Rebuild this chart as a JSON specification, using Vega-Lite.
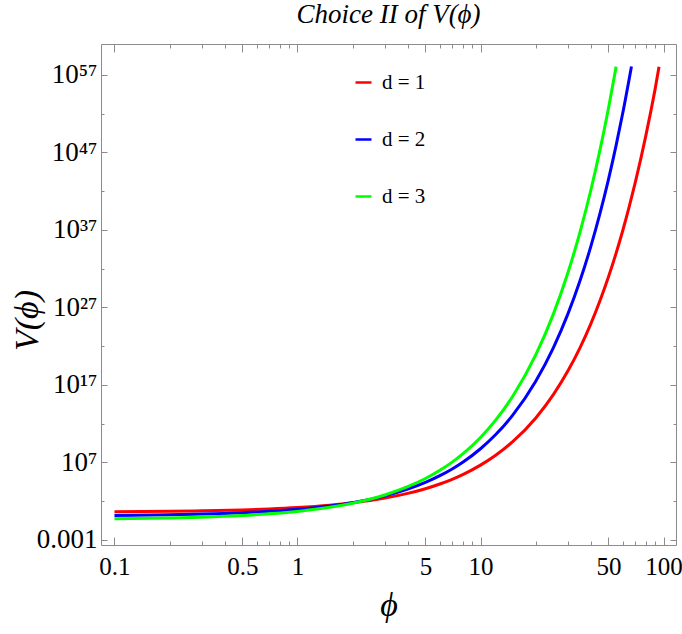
{
  "$schema": "https://vega.github.io/schema/vega-lite/v6.json",
  "autosize": {"type": "none"},
  "padding": {"left": 101, "top": 44, "right": 6, "bottom": 89},
  "width": 575,
  "height": 501,
  "background": "white",
  "title": {"text": "Choice II of V(ϕ)", "font": "Liberation Serif", "fontStyle": "italic", "fontWeight": "normal", "fontSize": 27, "color": "black", "anchor": "middle", "offset": 15},
  "config": {"view": {"stroke": null}, "axis": {"grid": false}},
  "data": {"values": [
    {"d": "d = 1", "phi": 0.1, "V": 4.4},
    {"d": "d = 1", "phi": 0.2, "V": 5.0},
    {"d": "d = 1", "phi": 0.3, "V": 5.8},
    {"d": "d = 1", "phi": 0.5, "V": 7.6},
    {"d": "d = 1", "phi": 0.7, "V": 10.1},
    {"d": "d = 1", "phi": 1, "V": 15.4},
    {"d": "d = 1", "phi": 1.5, "V": 31},
    {"d": "d = 1", "phi": 2, "V": 62},
    {"d": "d = 1", "phi": 3, "V": 251},
    {"d": "d = 1", "phi": 4, "V": 1020},
    {"d": "d = 1", "phi": 5, "V": 4120},
    {"d": "d = 1", "phi": 6, "V": 16600},
    {"d": "d = 1", "phi": 7, "V": 67000},
    {"d": "d = 1", "phi": 8, "V": 270000},
    {"d": "d = 1", "phi": 10, "V": 4.5e6},
    {"d": "d = 1", "phi": 12, "V": 7.3e7},
    {"d": "d = 1", "phi": 15, "V": 4.8e9},
    {"d": "d = 1", "phi": 20, "V": 5.2e12},
    {"d": "d = 1", "phi": 25, "V": 5.7e15},
    {"d": "d = 1", "phi": 30, "V": 6.2e18},
    {"d": "d = 1", "phi": 35, "V": 6.7e21},
    {"d": "d = 1", "phi": 40, "V": 7.2e24},
    {"d": "d = 1", "phi": 45, "V": 7.9e27},
    {"d": "d = 1", "phi": 50, "V": 8.5e30},
    {"d": "d = 1", "phi": 55, "V": 9.2e33},
    {"d": "d = 1", "phi": 60, "V": 1.0e37},
    {"d": "d = 1", "phi": 65, "V": 1.08e40},
    {"d": "d = 1", "phi": 70, "V": 1.17e43},
    {"d": "d = 1", "phi": 75, "V": 1.27e46},
    {"d": "d = 1", "phi": 80, "V": 1.38e49},
    {"d": "d = 1", "phi": 85, "V": 1.5e52},
    {"d": "d = 1", "phi": 90, "V": 1.62e55},
    {"d": "d = 1", "phi": 94.5, "V": 1.2e58},
    {"d": "d = 2", "phi": 0.1, "V": 1.48},
    {"d": "d = 2", "phi": 0.2, "V": 1.81},
    {"d": "d = 2", "phi": 0.3, "V": 2.21},
    {"d": "d = 2", "phi": 0.5, "V": 3.29},
    {"d": "d = 2", "phi": 0.7, "V": 4.91},
    {"d": "d = 2", "phi": 1, "V": 8.9},
    {"d": "d = 2", "phi": 1.5, "V": 24.3},
    {"d": "d = 2", "phi": 2, "V": 66},
    {"d": "d = 2", "phi": 3, "V": 489},
    {"d": "d = 2", "phi": 4, "V": 3610},
    {"d": "d = 2", "phi": 5, "V": 26700},
    {"d": "d = 2", "phi": 6, "V": 197000},
    {"d": "d = 2", "phi": 7, "V": 1.46e6},
    {"d": "d = 2", "phi": 8, "V": 1.07e7},
    {"d": "d = 2", "phi": 10, "V": 5.9e8},
    {"d": "d = 2", "phi": 12, "V": 3.2e10},
    {"d": "d = 2", "phi": 15, "V": 1.29e13},
    {"d": "d = 2", "phi": 20, "V": 2.84e17},
    {"d": "d = 2", "phi": 25, "V": 6.3e21},
    {"d": "d = 2", "phi": 30, "V": 1.38e26},
    {"d": "d = 2", "phi": 35, "V": 3.0e30},
    {"d": "d = 2", "phi": 40, "V": 6.6e34},
    {"d": "d = 2", "phi": 45, "V": 1.47e39},
    {"d": "d = 2", "phi": 50, "V": 3.2e43},
    {"d": "d = 2", "phi": 55, "V": 7.1e47},
    {"d": "d = 2", "phi": 60, "V": 1.55e52},
    {"d": "d = 2", "phi": 66.8, "V": 1.26e58},
    {"d": "d = 3", "phi": 0.1, "V": 0.54},
    {"d": "d = 3", "phi": 0.2, "V": 0.685},
    {"d": "d = 3", "phi": 0.3, "V": 0.875},
    {"d": "d = 3", "phi": 0.5, "V": 1.43},
    {"d": "d = 3", "phi": 0.7, "V": 2.33},
    {"d": "d = 3", "phi": 1, "V": 4.84},
    {"d": "d = 3", "phi": 1.5, "V": 16.4},
    {"d": "d = 3", "phi": 2, "V": 55.7},
    {"d": "d = 3", "phi": 3, "V": 641},
    {"d": "d = 3", "phi": 4, "V": 7400},
    {"d": "d = 3", "phi": 5, "V": 85000},
    {"d": "d = 3", "phi": 6, "V": 980000},
    {"d": "d = 3", "phi": 7, "V": 1.12e7},
    {"d": "d = 3", "phi": 8, "V": 1.3e8},
    {"d": "d = 3", "phi": 10, "V": 1.7e10},
    {"d": "d = 3", "phi": 12, "V": 2.3e12},
    {"d": "d = 3", "phi": 15, "V": 3.5e15},
    {"d": "d = 3", "phi": 20, "V": 6.9e20},
    {"d": "d = 3", "phi": 25, "V": 1.4e26},
    {"d": "d = 3", "phi": 30, "V": 2.8e31},
    {"d": "d = 3", "phi": 35, "V": 5.7e36},
    {"d": "d = 3", "phi": 40, "V": 1.15e42},
    {"d": "d = 3", "phi": 45, "V": 2.3e47},
    {"d": "d = 3", "phi": 50, "V": 4.7e52},
    {"d": "d = 3", "phi": 55.1, "V": 1.2e58}
  ]},
  "layer": [
    {
      "mark": {"type": "line", "strokeWidth": 3, "interpolate": "monotone", "clip": true},
      "encoding": {
        "x": {"field": "phi", "type": "quantitative",
          "scale": {"type": "log", "domain": [0.0844, 117], "nice": false},
          "axis": {"orient": "bottom", "title": "ϕ", "values": [0.1, 0.5, 1, 5, 10, 50, 100], "format": "~g",
            "domainColor": "#8c8c8c", "tickColor": "#8c8c8c", "tickSize": -8, "labelPadding": 17,
            "labelFont": "Liberation Sans Narrow", "labelFontSize": 25, "labelColor": "black",
            "titleFont": "Liberation Serif", "titleFontStyle": "italic", "titleFontWeight": "normal", "titleFontSize": 34, "titleColor": "black", "titlePadding": 9}},
        "y": {"field": "V", "type": "quantitative",
          "scale": {"type": "log", "domain": [2.24e-4, 1e61], "nice": false},
          "axis": {"orient": "left", "title": "V(ϕ)", "values": [1e-3, 1e7, 1e17, 1e27, 1e37, 1e47, 1e57],
            "labelExpr": "datum.value < 1 ? '0.001' : datum.value < 1e10 ? '10⁷' : datum.value < 1e20 ? '10¹⁷' : datum.value < 1e30 ? '10²⁷' : datum.value < 1e40 ? '10³⁷' : datum.value < 1e50 ? '10⁴⁷' : '10⁵⁷'",
            "domainColor": "#8c8c8c", "tickColor": "#8c8c8c", "tickSize": -6, "labelPadding": 10,
            "labelFont": "Liberation Sans Narrow", "labelFontSize": 27, "labelColor": "black",
            "titleFont": "Liberation Serif", "titleFontStyle": "italic", "titleFontWeight": "normal", "titleFontSize": 34, "titleColor": "black",
            "titleX": -74, "titleY": 276, "titleBaseline": "middle"}},
        "color": {"field": "d", "type": "nominal",
          "scale": {"domain": ["d = 1", "d = 2", "d = 3"], "range": ["#ff0000", "#0000ff", "#00ff00"]},
          "legend": {"title": null, "orient": "none", "legendX": 252, "legendY": 28, "symbolType": "stroke", "symbolSize": 256, "symbolStrokeWidth": 2.5,
            "labelFont": "Liberation Serif", "labelFontSize": 21, "labelColor": "black", "rowPadding": 35, "labelOffset": 8, "padding": 0}}
      }
    },
    {
      "mark": {"type": "point", "opacity": 0},
      "encoding": {
        "x": {"field": "phi", "type": "quantitative",
          "axis": {"orient": "bottom", "title": null, "labels": false, "domain": false, "tickColor": "#8c8c8c", "tickSize": -4,
            "values": [0.2, 0.3, 0.4, 0.6, 0.7, 0.8, 0.9, 2, 3, 4, 6, 7, 8, 9, 20, 30, 40, 60, 70, 80, 90]}},
        "y": {"field": "V", "type": "quantitative",
          "axis": {"orient": "left", "title": null, "labels": false, "domain": false, "tickColor": "#8c8c8c", "tickSize": -3,
            "values": [1e2, 1e12, 1e22, 1e32, 1e42, 1e52]}}
      }
    },
    {
      "mark": {"type": "point", "opacity": 0},
      "encoding": {
        "x": {"field": "phi", "type": "quantitative",
          "axis": {"orient": "top", "title": null, "labels": false, "domainColor": "#8c8c8c", "tickColor": "#8c8c8c", "tickSize": -8,
            "values": [0.1, 0.5, 1, 5, 10, 50, 100]}},
        "y": {"field": "V", "type": "quantitative",
          "axis": {"orient": "right", "title": null, "labels": false, "domainColor": "#8c8c8c", "tickColor": "#8c8c8c", "tickSize": -6,
            "values": [1e-3, 1e7, 1e17, 1e27, 1e37, 1e47, 1e57]}}
      }
    },
    {
      "mark": {"type": "point", "opacity": 0},
      "encoding": {
        "x": {"field": "phi", "type": "quantitative",
          "axis": {"orient": "top", "title": null, "labels": false, "domain": false, "tickColor": "#8c8c8c", "tickSize": -4,
            "values": [0.2, 0.3, 0.4, 0.6, 0.7, 0.8, 0.9, 2, 3, 4, 6, 7, 8, 9, 20, 30, 40, 60, 70, 80, 90]}},
        "y": {"field": "V", "type": "quantitative",
          "axis": {"orient": "right", "title": null, "labels": false, "domain": false, "tickColor": "#8c8c8c", "tickSize": -3,
            "values": [1e2, 1e12, 1e22, 1e32, 1e42, 1e52]}}
      }
    }
  ],
  "resolve": {"axis": {"x": "independent", "y": "independent"}}
}
